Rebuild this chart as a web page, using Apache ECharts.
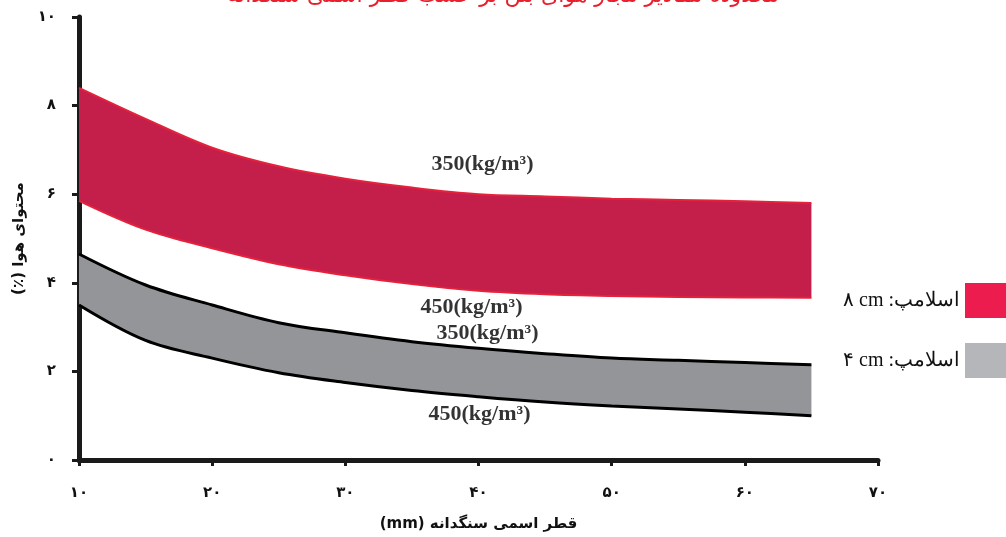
<!DOCTYPE html>
<html>
<head>
<meta charset="utf-8">
<script src="https://cdn.jsdelivr.net/npm/echarts@6/dist/echarts.min.js"></script>
<style>
  html, body { margin: 0; padding: 0; background: #fff; }
</style>
</head>
<body>
<!-- CHART: air content vs nominal aggregate size, two slump bands -->
<div id="chart" style="width:1006px; height:537px;"></div>
<script>
// x = nominal aggregate size (mm), every 5 mm
var sizes = [10, 15, 20, 25, 30, 35, 40, 45, 50, 55, 60, 65, 70];

// slump 8 cm band (red): 350 kg/m3 edge on top, 450 kg/m3 edge below
var red350 = [8.4, 7.7, 7.05, 6.63, 6.35, 6.15, 6.0, 5.95, 5.9, 5.87, 5.84, 5.8];
var red450 = [5.85, 5.2, 4.78, 4.42, 4.17, 3.97, 3.82, 3.74, 3.7, 3.68, 3.67, 3.66];

// slump 4 cm band (gray)
var gray350 = [4.65, 3.95, 3.5, 3.1, 2.87, 2.67, 2.52, 2.4, 2.3, 2.25, 2.2, 2.15];
var gray450 = [3.5, 2.7, 2.3, 1.97, 1.75, 1.57, 1.43, 1.31, 1.22, 1.15, 1.08, 1.0];

var xTickLabels = ['۱۰', '۲۰', '۳۰', '۴۰', '۵۰', '۶۰', '۷۰'];
var yTickLabels = ['۰', '۲', '۴', '۶', '۸', '۱۰'];

var legendNames = ['۸ cm :اسلامپ', '۴ cm :اسلامپ'];

// text notes: [size category, air %, text]
var notes = [
  [40, 6.68, '350(kg/m³)'],
  [40, 3.45, '450(kg/m³)'],
  [40, 2.85, '350(kg/m³)'],
  [40, 1.03, '450(kg/m³)']
];
var noteShiftX = [4, -7, 9, 1];

function diffs(top, bottom) {
  return top.map(function (v, i) { return +(v - bottom[i]).toFixed(3); });
}

var myChart = echarts.init(document.getElementById('chart'));

var option = {
  animation: false,
  title: {
    text: 'محدوده مقادیر مجاز هوای بتن بر حسب قطر اسمی سنگدانه',
    left: 'center',
    top: -20,
    textStyle: { color: '#e8202e', fontSize: 22, fontWeight: 'normal', fontFamily: 'DejaVu Sans' }
  },
  grid: { left: 79, right: 128, top: 17, bottom: 74 },
  legend: {
    orient: 'vertical',
    right: 0,
    top: 283,
    padding: 0,
    align: 'right',
    icon: 'rect',
    itemWidth: 41,
    itemHeight: 35,
    itemGap: 25,
    selectedMode: false,
    textStyle: { fontSize: 20, color: '#111', fontFamily: 'Liberation Serif' },
    data: [
      { name: legendNames[0], itemStyle: { color: '#ed1c4f', borderWidth: 0 } },
      { name: legendNames[1], itemStyle: { color: '#b5b6ba', borderWidth: 0 } }
    ]
  },
  xAxis: {
    type: 'category',
    data: sizes,
    boundaryGap: false,
    name: '(mm) قطر اسمی سنگدانه',
    nameLocation: 'middle',
    nameGap: 57,
    nameTextStyle: { fontSize: 15, fontWeight: 'bold', color: '#111', fontFamily: 'DejaVu Sans' },
    splitLine: { show: false },
    axisLine: { show: true, lineStyle: { color: '#1a1a1a', width: 5 } },
    axisTick: { show: true, interval: 1, length: 6, lineStyle: { color: '#1a1a1a', width: 3 } },
    axisLabel: {
      interval: 1,
      margin: 26,
      fontSize: 15,
      fontWeight: 'bold',
      color: '#111',
      fontFamily: 'DejaVu Sans',
      formatter: function (v) { return xTickLabels[Math.round((Number(v) - 10) / 10)]; }
    }
  },
  yAxis: {
    type: 'value',
    min: 0,
    max: 10,
    interval: 2,
    name: '(٪) محتوای هوا',
    nameLocation: 'middle',
    nameGap: 49,
    nameTextStyle: { fontSize: 15, fontWeight: 'bold', color: '#111', fontFamily: 'DejaVu Sans' },
    splitLine: { show: false },
    axisLine: { show: true, lineStyle: { color: '#1a1a1a', width: 5 } },
    axisTick: { show: true, length: 7, lineStyle: { color: '#1a1a1a', width: 3 } },
    axisLabel: {
      margin: 23,
      fontSize: 15,
      fontWeight: 'bold',
      color: '#111',
      fontFamily: 'DejaVu Sans',
      formatter: function (v) { return yTickLabels[Math.round(v / 2)]; }
    }
  },
  series: [
    {
      name: 'red450',
      type: 'line',
      stack: 'red',
      smooth: 0.35,
      symbol: 'none',
      data: red450,
      lineStyle: { color: '#e4223c', width: 2 },
      silent: true
    },
    {
      name: legendNames[0],
      type: 'line',
      stack: 'red',
      smooth: 0.35,
      symbol: 'none',
      data: diffs(red350, red450),
      lineStyle: { color: '#e4223c', width: 2 },
      areaStyle: { color: '#c41e4a', opacity: 1 },
      itemStyle: { color: '#ed1c4f' },
      silent: true
    },
    {
      name: 'gray450',
      type: 'line',
      stack: 'gray',
      smooth: 0.35,
      symbol: 'none',
      data: gray450,
      lineStyle: { color: '#000', width: 3 },
      silent: true,
      z: 3
    },
    {
      name: legendNames[1],
      type: 'line',
      stack: 'gray',
      smooth: 0.35,
      symbol: 'none',
      data: diffs(gray350, gray450),
      lineStyle: { color: '#000', width: 3 },
      areaStyle: { color: '#939598', opacity: 1 },
      itemStyle: { color: '#b5b6ba' },
      silent: true,
      z: 2
    },
    {
      name: 'notes',
      type: 'scatter',
      symbolSize: 0,
      silent: true,
      z: 10,
      data: notes.map(function (n, i) {
        return { value: [String(n[0]), n[1]], name: n[2], label: { offset: [noteShiftX[i], 0] } };
      }),
      label: {
        show: true,
        position: 'inside',
        formatter: function (p) { return p.name; },
        fontSize: 22,
        fontWeight: 'bold',
        color: '#000',
        textBorderWidth: 0,
        fontFamily: 'Liberation Serif'
      }
    }
  ]
};

myChart.setOption(option);
</script>
</body>
</html>
